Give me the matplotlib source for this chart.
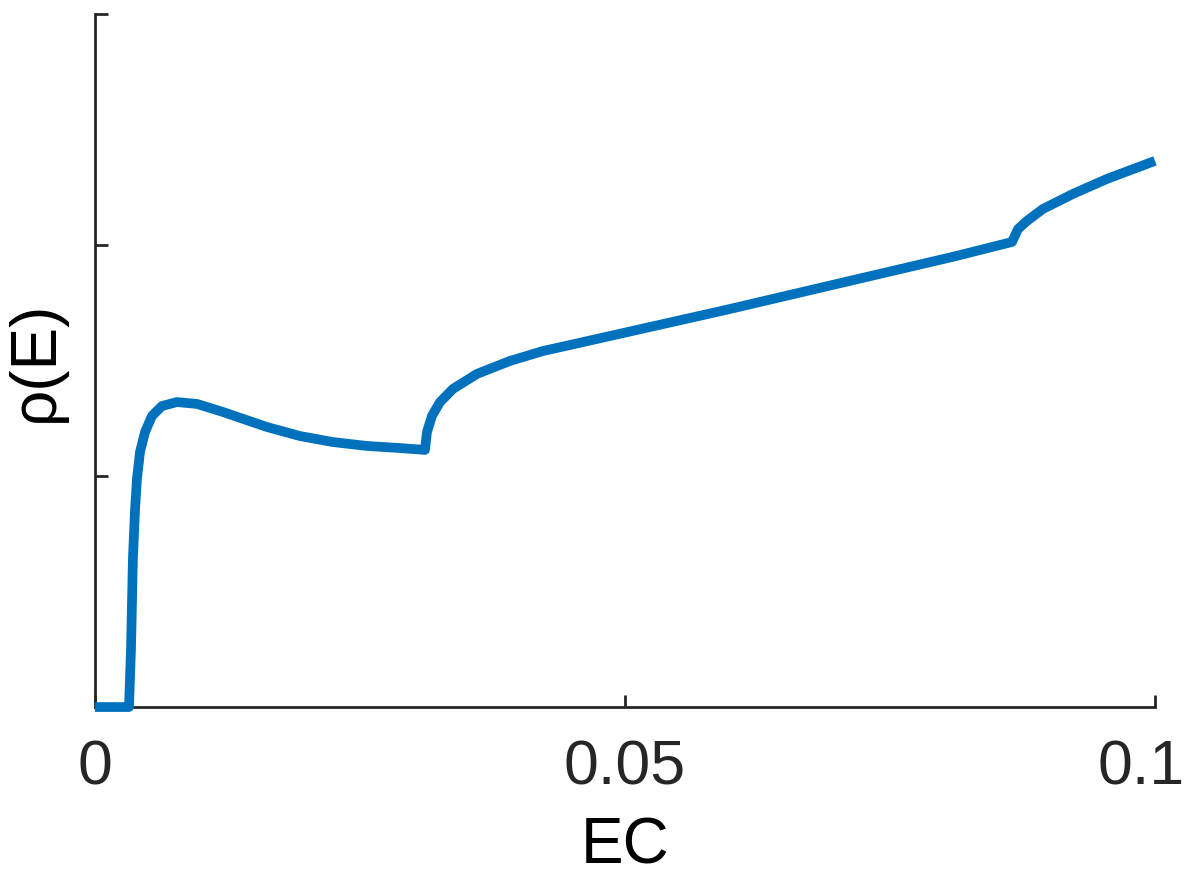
import matplotlib.pyplot as plt
import matplotlib.transforms as mtransforms

# curve (E on x, density on arbitrary y units)
energy = [0, 0.00321, 0.00340, 0.00358, 0.00377, 0.00396, 0.00425, 0.00472, 0.00538,
          0.00632, 0.00774, 0.00962, 0.01208, 0.01623, 0.01934, 0.02245, 0.02566,
          0.02877, 0.03113, 0.03132, 0.03179, 0.03255, 0.03377, 0.03604, 0.03915,
          0.04226, 0.04481, 0.05236, 0.05953, 0.06679, 0.07396, 0.08123, 0.08651,
          0.08708, 0.08792, 0.08943, 0.09226, 0.09547, 0.1]
density = [0, 0, 0.251, 0.641, 0.844, 0.987, 1.104, 1.190, 1.260,
           1.303, 1.320, 1.312, 1.277, 1.212, 1.173, 1.147, 1.130,
           1.121, 1.113, 1.190, 1.260, 1.320, 1.377, 1.442, 1.498,
           1.541, 1.567, 1.645, 1.719, 1.797, 1.874, 1.952, 2.013,
           2.069, 2.104, 2.156, 2.221, 2.286, 2.364]
xticks = [0, 0.05, 0.1]
xticklabels = ['0', '0.05', '0.1']
yticks = [0, 1, 2, 3]

plt.rcParams['font.family'] = ['Liberation Sans', 'DejaVu Sans']
fig = plt.figure(figsize=(11.84, 8.79), dpi=100)
ax = fig.add_axes([0.0802, 0.1945, 0.8953, 0.7885])

ax.plot(energy, density, color='#0072BD', lw=7, clip_on=False, zorder=5,
        solid_joinstyle='round', solid_capstyle='butt')

ax.set_xlim(0, 0.1)
ax.set_ylim(0, 3)
ax.set_xticks(xticks)
ax.set_xticklabels(xticklabels)
ax.set_yticks(yticks)
ax.set_yticklabels([])

for s in ['top', 'right']:
    ax.spines[s].set_visible(False)
for s in ['left', 'bottom']:
    ax.spines[s].set_linewidth(2)
    ax.spines[s].set_color('#262626')
ax.tick_params(direction='in', length=9, width=2, color='#262626',
               labelsize=45, labelcolor='#262626', pad=22)

# keep the last tick label inside the figure
last = ax.get_xticklabels()[-1]
last.set_transform(last.get_transform() +
                   mtransforms.ScaledTranslation(-0.14, 0, fig.dpi_scale_trans))

ax.set_xlabel('EC', fontsize=46, va='baseline')
ax.set_ylabel('\u03c1(E)', fontsize=46)
ax.xaxis.set_label_coords(0.5, -0.224)
ax.yaxis.set_label_coords(-0.027, 0.5)

fig.savefig('out.png', dpi=100)
